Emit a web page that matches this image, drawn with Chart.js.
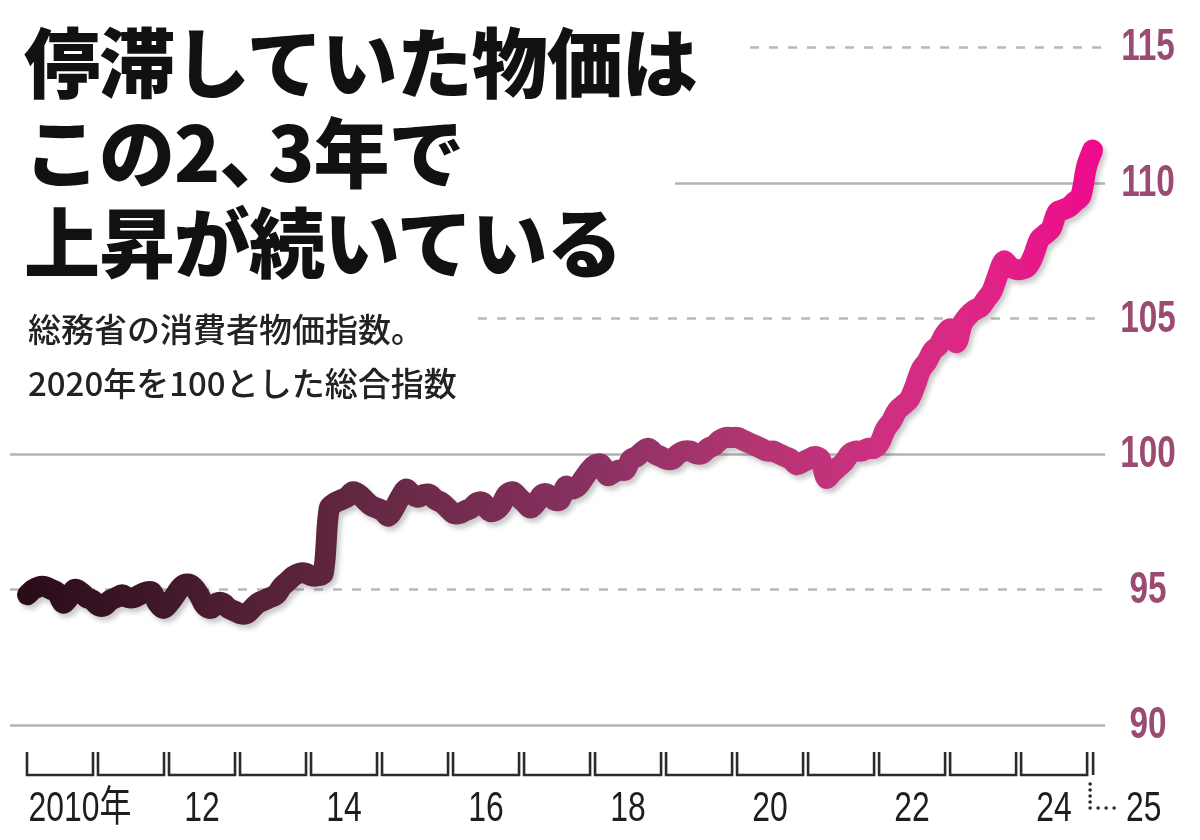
<!DOCTYPE html>
<html lang="ja">
<head>
<meta charset="utf-8">
<script src="https://cdn.jsdelivr.net/npm/chart.js@4.4.1/dist/chart.umd.min.js"></script>
<style>
  html, body { margin: 0; padding: 0; background: #ffffff; }
  #wrap { position: relative; width: 1200px; height: 840px; overflow: hidden; background: #fff; }
  canvas { position: absolute; left: 0; top: 0; }
  .title { position: absolute; left: 24px; font-family: "Noto Sans CJK JP", sans-serif; font-weight: 900;
           font-size: 76px; line-height: 76px; letter-spacing: -1px; color: #111; white-space: nowrap; }
  .sub { position: absolute; left: 28px; font-family: "Noto Sans CJK JP", sans-serif; font-weight: 500;
         font-size: 33px; line-height: 33px; color: #222; white-space: nowrap; }
  .tight { margin-right: -26px; }
</style>
</head>
<body>
<div id="wrap">
  <canvas id="c" width="1200" height="840"></canvas>
  <div class="title" style="top:21px">停滞していた物価は</div>
  <div class="title" style="top:111px">この2<span class="tight">、</span>3年で</div>
  <div class="title" style="top:201px">上昇が続いている</div>
  <div class="sub" style="top:312px">総務省の消費者物価指数。</div>
  <div class="sub" style="top:366px">2020年を100とした総合指数</div>
</div>
<script>
// ---- data (monthly CPI, 2020 = 100), Jan 2010 .. Jan 2025 ----
const v2010 = [94.8, 95.0, 95.1, 95.1, 95.0, 94.9, 94.5, 94.7, 95.0, 94.9, 94.7, 94.6];
const v2011 = [94.4, 94.4, 94.6, 94.7, 94.8, 94.7, 94.7, 94.8, 94.9, 94.9, 94.5, 94.3];
const v2012 = [94.5, 94.8, 95.1, 95.2, 95.1, 94.8, 94.4, 94.3, 94.5, 94.5, 94.3, 94.2];
const v2013 = [94.1, 94.1, 94.3, 94.5, 94.6, 94.7, 94.8, 95.1, 95.3, 95.5, 95.6, 95.6];
const v2014 = [95.5, 95.5, 95.6, 98.0, 98.2, 98.3, 98.4, 98.6, 98.5, 98.3, 98.1, 98.0];
const v2015 = [97.9, 97.7, 98.0, 98.4, 98.7, 98.5, 98.4, 98.5, 98.5, 98.3, 98.2, 98.0];
const v2016 = [97.8, 97.8, 97.9, 98.0, 98.2, 98.2, 97.9, 97.9, 98.1, 98.5, 98.6, 98.4];
const v2017 = [98.2, 98.0, 98.2, 98.5, 98.5, 98.3, 98.3, 98.8, 98.7, 98.8, 99.1, 99.4];
const v2018 = [99.6, 99.6, 99.2, 99.3, 99.4, 99.4, 99.8, 99.9, 100.1, 100.2, 100.0, 99.9];
const v2019 = [99.8, 99.8, 100.0, 100.1, 100.1, 100.0, 100.0, 100.2, 100.3, 100.5, 100.6, 100.6];
const v2020 = [100.6, 100.5, 100.4, 100.3, 100.2, 100.1, 100.1, 100.0, 99.9, 99.8, 99.6, 99.7];
const v2021 = [99.8, 99.9, 99.8, 99.1, 99.3, 99.5, 99.7, 100.0, 100.1, 100.1, 100.2, 100.2];
const v2022 = [100.4, 100.9, 101.2, 101.6, 101.8, 102.0, 102.5, 103.1, 103.4, 103.8, 104.0, 104.4];
const v2023 = [104.6, 104.1, 104.8, 105.1, 105.3, 105.4, 105.7, 106.0, 106.6, 107.1, 106.9, 106.8];
const v2024 = [106.8, 106.9, 107.3, 107.9, 108.1, 108.3, 108.9, 109.0, 109.1, 109.3, 109.5, 110.6];
const v2025 = [111.2];

const startYear = 2010;
const yearSeries = [v2010, v2011, v2012, v2013, v2014, v2015, v2016, v2017, v2018, v2019, v2020, v2021, v2022, v2023, v2024, v2025];

// tick labels
const yTicks = [90, 95, 100, 105, 110, 115];
const yTickLabels = ['90', '95', '100', '105', '110', '115'];
const xTickYears = [2010, 2012, 2014, 2016, 2018, 2020, 2022, 2024];
const xTickLabels = ['2010年', '12', '14', '16', '18', '20', '22', '24'];
const lastYearLabel = '25';

// build points (x = month index from Jan 2010)
const points = [];
yearSeries.forEach((arr, yi) => arr.forEach((v, m) => points.push({ x: yi * 12 + m, y: v })));

// ---- styles ----
const gridStyle = {            // per tick value: dashed?, left start pixel
  90:  { dash: false, from: 10 },
  95:  { dash: true,  from: 10 },
  100: { dash: false, from: 10 },
  105: { dash: true,  from: 478 },
  110: { dash: false, from: 675 },
  115: { dash: true,  from: 750 }
};
const labelFont = "'Liberation Sans', 'Noto Sans CJK JP', sans-serif";

function condensedText(ctx, text, x, y, align, sx) {
  ctx.save();
  const w = ctx.measureText(text).width * sx;
  let left = x;
  if (align === 'center') left = x - w / 2;
  else if (align === 'right') left = x - w;
  ctx.translate(left, y);
  ctx.scale(sx, 1);
  ctx.textAlign = 'left';
  ctx.fillText(text, 0, 0);
  ctx.restore();
}

const gridPlugin = {
  id: 'grid',
  beforeDatasetsDraw(chart) {
    const { ctx, chartArea, scales: { y } } = chart;
    ctx.save();
    yTicks.forEach(t => {
      const st = gridStyle[t];
      const py = Math.round(y.getPixelForValue(t)) + 0.5;
      ctx.beginPath();
      ctx.lineWidth = 2.5;
      ctx.strokeStyle = st.dash ? '#b9b9b9' : '#b3b3b3';
      ctx.setLineDash(st.dash ? [9, 10] : []);
      ctx.moveTo(st.from, py);
      ctx.lineTo(chartArea.right, py);
      ctx.stroke();
    });
    ctx.restore();
  }
};

const shadowPlugin = {
  id: 'lineShadow',
  beforeDatasetDraw(chart) {
    const ctx = chart.ctx;
    ctx.save();
    ctx.shadowColor = 'rgba(60,60,60,0.28)';
    ctx.shadowBlur = 5;
    ctx.shadowOffsetX = 3;
    ctx.shadowOffsetY = 4;
  },
  afterDatasetDraw(chart) {
    chart.ctx.restore();
  }
};

const axesPlugin = {
  id: 'customAxes',
  afterDraw(chart) {
    const { ctx, chartArea, scales: { x, y } } = chart;
    ctx.save();
    // y labels on the right
    ctx.fillStyle = '#9b4b72';
    ctx.font = "bold 45px " + labelFont;
    ctx.textBaseline = 'middle';
    yTicks.forEach((t, i) => {
      condensedText(ctx, yTickLabels[i], chartArea.right + 43, y.getPixelForValue(t) + 1, 'center', 0.74);
    });

    // x axis year brackets
    const top = chartArea.bottom + 27, bot = chartArea.bottom + 50;
    ctx.strokeStyle = '#2b2b2b';
    ctx.lineWidth = 2.6;
    ctx.setLineDash([]);
    const nYears = yearSeries.length - 1; // full years
    for (let k = 0; k < nYears; k++) {
      const x0 = x.getPixelForValue(k * 12 - 0.5) + 2.5;
      const x1 = x.getPixelForValue(k * 12 + 11.5) - 2.5;
      ctx.beginPath();
      ctx.moveTo(x0, top);
      ctx.lineTo(x0, bot);
      ctx.lineTo(x1, bot);
      ctx.lineTo(x1, top);
      ctx.stroke();
    }
    // partial last year
    const xs = x.getPixelForValue(nYears * 12 - 0.5) + 3.5;
    ctx.beginPath();
    ctx.moveTo(xs, top);
    ctx.lineTo(xs, bot);
    ctx.stroke();
    // dotted connector to last label
    ctx.fillStyle = '#2b2b2b';
    const dx = xs - 3;
    [bot + 9, bot + 15, bot + 21, bot + 27, bot + 33].forEach(py => {
      ctx.beginPath(); ctx.arc(dx, py, 1.8, 0, Math.PI * 2); ctx.fill();
    });
    [dx + 8, dx + 16, dx + 24].forEach(px => {
      ctx.beginPath(); ctx.arc(px, bot + 33, 1.8, 0, Math.PI * 2); ctx.fill();
    });

    // x labels
    ctx.fillStyle = '#1e1e1e';
    ctx.font = "42px " + labelFont;
    ctx.textBaseline = 'middle';
    const ly = chartArea.bottom + 84;
    xTickYears.forEach((yr, i) => {
      const k = yr - startYear;
      if (i === 0) {
        condensedText(ctx, xTickLabels[i], x.getPixelForValue(k * 12 - 0.5) + 4, ly, 'left', 0.76);
      } else {
        condensedText(ctx, xTickLabels[i], x.getPixelForValue(k * 12 + 5.5), ly, 'center', 0.76);
      }
    });
    condensedText(ctx, lastYearLabel, dx + 36, ly, 'left', 0.76);
    ctx.restore();
  }
};

function lineGradient(context) {
  const { chart } = context;
  const area = chart.chartArea;
  if (!area) return '#6a2a45';
  const g = chart.ctx.createLinearGradient(area.left, 0, area.right, 0);
  g.addColorStop(0.00, '#280b17');
  g.addColorStop(0.13, '#3e1729');
  g.addColorStop(0.22, '#532036');
  g.addColorStop(0.36, '#6a2a47');
  g.addColorStop(0.54, '#8b3163');
  g.addColorStop(0.68, '#b33572');
  g.addColorStop(0.80, '#cf2f82');
  g.addColorStop(0.87, '#dc2884');
  g.addColorStop(1.00, '#f0088e');
  return g;
}

new Chart(document.getElementById('c'), {
  type: 'line',
  data: {
    datasets: [{
      data: points,
      borderColor: lineGradient,
      borderWidth: 21,
      borderCapStyle: 'round',
      borderJoinStyle: 'round',
      pointRadius: 0,
      tension: 0.35,
      fill: false,
      clip: false
    }]
  },
  options: {
    responsive: false,
    animation: false,
    devicePixelRatio: 1,
    layout: { padding: { left: 10, right: 95, top: 47, bottom: 115 } },
    plugins: { legend: { display: false }, tooltip: { enabled: false } },
    scales: {
      x: { type: 'linear', min: -2.95, max: 182.1, display: false },
      y: { type: 'linear', min: 90, max: 115, display: false }
    }
  },
  plugins: [gridPlugin, shadowPlugin, axesPlugin]
});
</script>
</body>
</html>
